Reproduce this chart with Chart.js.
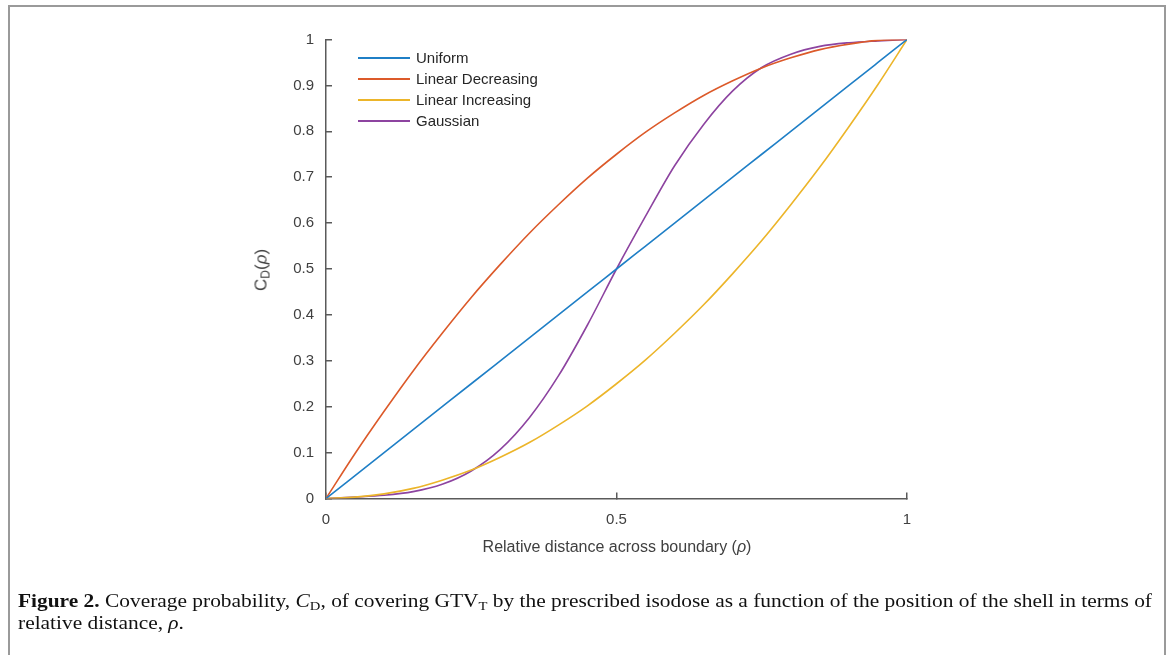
<!DOCTYPE html>
<html>
<head>
<meta charset="utf-8">
<script src="https://cdn.jsdelivr.net/npm/chart.js@4"></script>
<style>
  body { margin: 0; background: #fff; width: 1171px; height: 655px; overflow: hidden; position: relative; }
  .frame { position: absolute; left: 8px; top: 5px; width: 1154px; height: 700px; border: 2px solid #9a9a9a; border-bottom: none; }
  #wrap { position: absolute; left: 0; top: 0; width: 1171px; height: 655px; }
  .ytitle { position: absolute; left: 262px; top: 270px; transform: translate(-50%, -50%) rotate(-90deg); font: 17px "Liberation Sans", Arial, sans-serif; color: #404040; white-space: nowrap; }
  .ytitle sub { font-size: 12px; vertical-align: -3px; }
  .xtitle { position: absolute; left: 617px; top: 547px; transform: translate(-50%, -50%); font: 16px "Liberation Sans", Arial, sans-serif; color: #404040; white-space: nowrap; }
  .legend { position: absolute; left: 358px; top: 47px; font: 15px "Liberation Sans", Arial, sans-serif; color: #262626; }
  .legend div { height: 21px; display: flex; align-items: center; }
  .legend span.line { display: inline-block; width: 52px; height: 2px; margin-right: 6px; }
  .caption { position: absolute; left: 18px; top: 590px; font: 19px "Liberation Serif", "DejaVu Serif", serif; color: #111; line-height: 22px; white-space: nowrap; transform-origin: 0 0; }
  .caption sub { font-size: 13px; vertical-align: -3px; line-height: 0; }
</style>
</head>
<body>
<div class="frame"></div>
<div id="wrap"><canvas id="chart" width="1171" height="655"></canvas></div>
<div class="ytitle">C<sub>D</sub>(<i>ρ</i>)</div>
<div class="xtitle">Relative distance across boundary (<i>ρ</i>)</div>
<div class="legend" id="legend"></div>
<div class="caption" id="caption"><b>Figure 2.</b> Coverage probability, <i>C</i><sub>D</sub>, of covering GTV<sub>T</sub> by the prescribed isodose as a function of the position of the shell in terms of<br>relative distance, <i>ρ</i>.</div>
<script>
// relative distance across boundary
const rho = [0, 0.05, 0.1, 0.15, 0.2, 0.25, 0.3, 0.35, 0.4, 0.45, 0.5, 0.55, 0.6, 0.65, 0.7, 0.75, 0.8, 0.85, 0.9, 0.95, 1]

const uniform   = [0, 0.05, 0.1, 0.15, 0.2, 0.25, 0.3, 0.35, 0.4, 0.45, 0.5, 0.55, 0.6, 0.65, 0.7, 0.75, 0.8, 0.85, 0.9, 0.95, 1]
const linearDec = [0, 0.098, 0.19, 0.278, 0.36, 0.438, 0.51, 0.578, 0.64, 0.698, 0.75, 0.798, 0.84, 0.878, 0.91, 0.938, 0.96, 0.978, 0.99, 0.998, 1]
const linearInc = [0, 0.003, 0.01, 0.022, 0.04, 0.062, 0.09, 0.122, 0.16, 0.202, 0.25, 0.302, 0.36, 0.422, 0.49, 0.562, 0.64, 0.722, 0.81, 0.902, 1]
const gaussian  = [0, 0.003, 0.007, 0.015, 0.031, 0.06, 0.107, 0.176, 0.267, 0.378, 0.5, 0.615, 0.725, 0.815, 0.888, 0.939, 0.968, 0.985, 0.993, 0.997, 1]

const seriesNames = ['Uniform', 'Linear Decreasing', 'Linear Increasing', 'Gaussian']
const seriesValues = [uniform, linearDec, linearInc, gaussian]
const seriesColors = ['#1f7fc6', '#dc5a2a', '#ecb52a', '#8d44a0']

const xTicks = [0, 0.5, 1]
const yTicks = [0, 0.1, 0.2, 0.3, 0.4, 0.5, 0.6, 0.7, 0.8, 0.9, 1]

const datasets = seriesNames.map((name, s) => ({
    label: name,
    data: rho.map((r, i) => ({ x: r, y: seriesValues[s][i] })),
    borderColor: seriesColors[s],
    borderWidth: 1.6,
    pointRadius: 0,
    cubicInterpolationMode: 'monotone',
    fill: false
}))

// legend inside the axes, like matlab
let leg = ''
for (let s = 0; s < seriesNames.length; s++) {
    leg += `<div><span class="line" style="background:${seriesColors[s]}"></span>${seriesNames[s]}</div>`
}
document.getElementById('legend').innerHTML = leg

const tickFont = { family: '"Liberation Sans", Arial, sans-serif', size: 15 }
const axisColor = '#5a5a5a'

new Chart(document.getElementById('chart'), {
    type: 'line',
    data: { datasets: datasets },
    options: {
        responsive: false,
        animation: false,
        layout: { padding: { left: 246, right: 264, top: 39.5, bottom: 126.5 } },
        plugins: { legend: { display: false }, tooltip: { enabled: false } },
        scales: {
            x: {
                type: 'linear',
                min: 0,
                max: 1,
                afterBuildTicks: (axis) => { axis.ticks = xTicks.map(v => ({ value: v })) },
                afterFit: (axis) => { axis.height = 30 },
                ticks: { font: tickFont, color: '#404040', padding: 18, maxRotation: 0,
                         callback: (v) => String(v) },
                grid: { drawOnChartArea: false, tickLength: -6, color: axisColor, lineWidth: 1.5 },
                border: { color: axisColor, width: 1.5 }
            },
            y: {
                min: 0,
                max: 1,
                afterBuildTicks: (axis) => { axis.ticks = yTicks.map(v => ({ value: v })) },
                afterFit: (axis) => { axis.width = 80 },
                ticks: { font: tickFont, color: '#404040', padding: 18,
                         callback: (v) => String(Math.round(v * 10) / 10) },
                grid: { drawOnChartArea: false, tickLength: -6, color: axisColor, lineWidth: 1.5 },
                border: { color: axisColor, width: 1.5 }
            }
        }
    }
})

// squeeze caption to the reference line width
const cap = document.getElementById('caption')
const w = cap.getBoundingClientRect().width
cap.style.transform = `scaleX(${1134 / w})`
</script>
</body>
</html>
